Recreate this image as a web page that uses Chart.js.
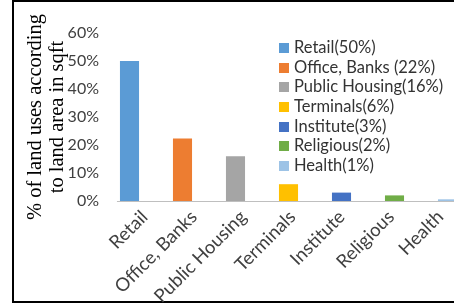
<!DOCTYPE html>
<html>
<head>
<meta charset="utf-8">
<script src="https://cdn.jsdelivr.net/npm/chart.js@4/dist/chart.umd.min.js"></script>
<style>
  html, body { margin: 0; padding: 0; background: #fff; overflow: hidden; }
  #frame { position: absolute; left: 12px; top: 0px; width: 520px; height: 299px; border: 2px solid #000; }
  #wrap { position: absolute; left: 0; top: 0; width: 490px; height: 304px; }
  #legend { position: absolute; left: 279px; top: 38px; font-family: Lato, "Open Sans", sans-serif; font-size: 16.5px; color: #333; }
  #legend div { height: 19.7px; line-height: 19.7px; white-space: nowrap; }
  #legend span.box { display: inline-block; width: 10px; height: 10px; margin-right: 5px; vertical-align: 0px; }
</style>
</head>
<body>
<div id="frame"></div>
<div id="wrap"><canvas id="chart" width="490" height="304"></canvas></div>
<div id="legend"></div>
<script>
// data
const categories = ['Retail', 'Office, Banks', 'Public Housing', 'Terminals', 'Institute', 'Religious', 'Health'];
const shares = [50, 22.3, 16, 6, 3, 2, 0.6];
const legendLabels = ['Retail(50%)', 'Office, Banks (22%)', 'Public Housing(16%)', 'Terminals(6%)', 'Institute(3%)', 'Religious(2%)', 'Health(1%)'];
const barColors = ['#5B9BD5', '#ED7D31', '#A5A5A5', '#FFC000', '#4472C4', '#70AD47', '#9DC3E6'];
const yTicks = [0, 10, 20, 30, 40, 50, 60];
const yTitle = ['% of land uses according', 'to land area in sqft'];

// legend built from the same arrays
var legend = document.getElementById('legend');
legendLabels.forEach(function(text, i) {
    var row = document.createElement('div');
    var box = document.createElement('span');
    box.className = 'box';
    box.style.background = barColors[i];
    row.appendChild(box);
    row.appendChild(document.createTextNode(text));
    legend.appendChild(row);
});

// baseline starts just left of the first bar, like the original
const baseline = {
    id: 'baseline',
    afterDatasetsDraw(chart) {
        var y = chart.scales.y.getPixelForValue(0);
        var first = chart.getDatasetMeta(0).data[0];
        var x0 = first.x - first.width / 2 - 3;
        var ctx = chart.ctx;
        ctx.save();
        ctx.strokeStyle = '#BFBFBF';
        ctx.lineWidth = 1;
        ctx.beginPath();
        ctx.moveTo(x0, Math.round(y) + 0.5);
        ctx.lineTo(chart.chartArea.right, Math.round(y) + 0.5);
        ctx.stroke();
        ctx.restore();
    }
};

// in the original the category labels sit a bit tighter than the bars,
// so the label axis gets a slightly narrower span than the bar axis
const labelSpan = {
    id: 'labelSpan',
    afterLayout(chart) {
        var s = chart.scales.xLabels;
        s.left = 120;
        s.right = 465;
        s.configure();
    }
};

var ctx = document.getElementById('chart').getContext('2d');
new Chart(ctx, {
    type: 'bar',
    data: {
        labels: categories,
        datasets: [{
            data: shares,
            backgroundColor: barColors,
            categoryPercentage: 1,
            barPercentage: 0.36
        }]
    },
    options: {
        responsive: false,
        animation: false,
        layout: { padding: { top: 33, right: 16, left: 0, bottom: 0 } },
        plugins: { legend: { display: false }, tooltip: { enabled: false } },
        scales: {
            x: {
                grid: { display: false, drawTicks: false },
                border: { display: false },
                ticks: { display: false },
                afterFit: function(scale) { scale.height = 0; }
            },
            xLabels: {
                type: 'category',
                position: 'bottom',
                labels: categories,
                grid: { display: false, drawTicks: false },
                border: { display: false },
                ticks: {
                    minRotation: 45, maxRotation: 45, padding: 5,
                    color: '#404040',
                    font: { family: 'Lato, "Open Sans", sans-serif', size: 18.5 }
                },
                afterFit: function(scale) { scale.height = 103; }
            },
            y: {
                min: 0, max: 60,
                afterBuildTicks: function(scale) { scale.ticks = yTicks.map(v => ({ value: v })); },
                grid: { display: false, drawTicks: false },
                border: { display: false },
                ticks: {
                    padding: 4,
                    color: '#404040',
                    font: { family: 'Lato, "Open Sans", sans-serif', size: 16 },
                    callback: function(v) { return v + '%'; }
                },
                title: {
                    display: true,
                    text: yTitle,
                    color: '#000',
                    padding: { top: 25, bottom: 0 },
                    font: { family: '"Liberation Serif", "DejaVu Serif", serif', size: 20.5, lineHeight: 1.05 }
                },
                afterFit: function(scale) { scale.width = 103; }
            }
        }
    },
    plugins: [baseline, labelSpan]
});
</script>
</body>
</html>
